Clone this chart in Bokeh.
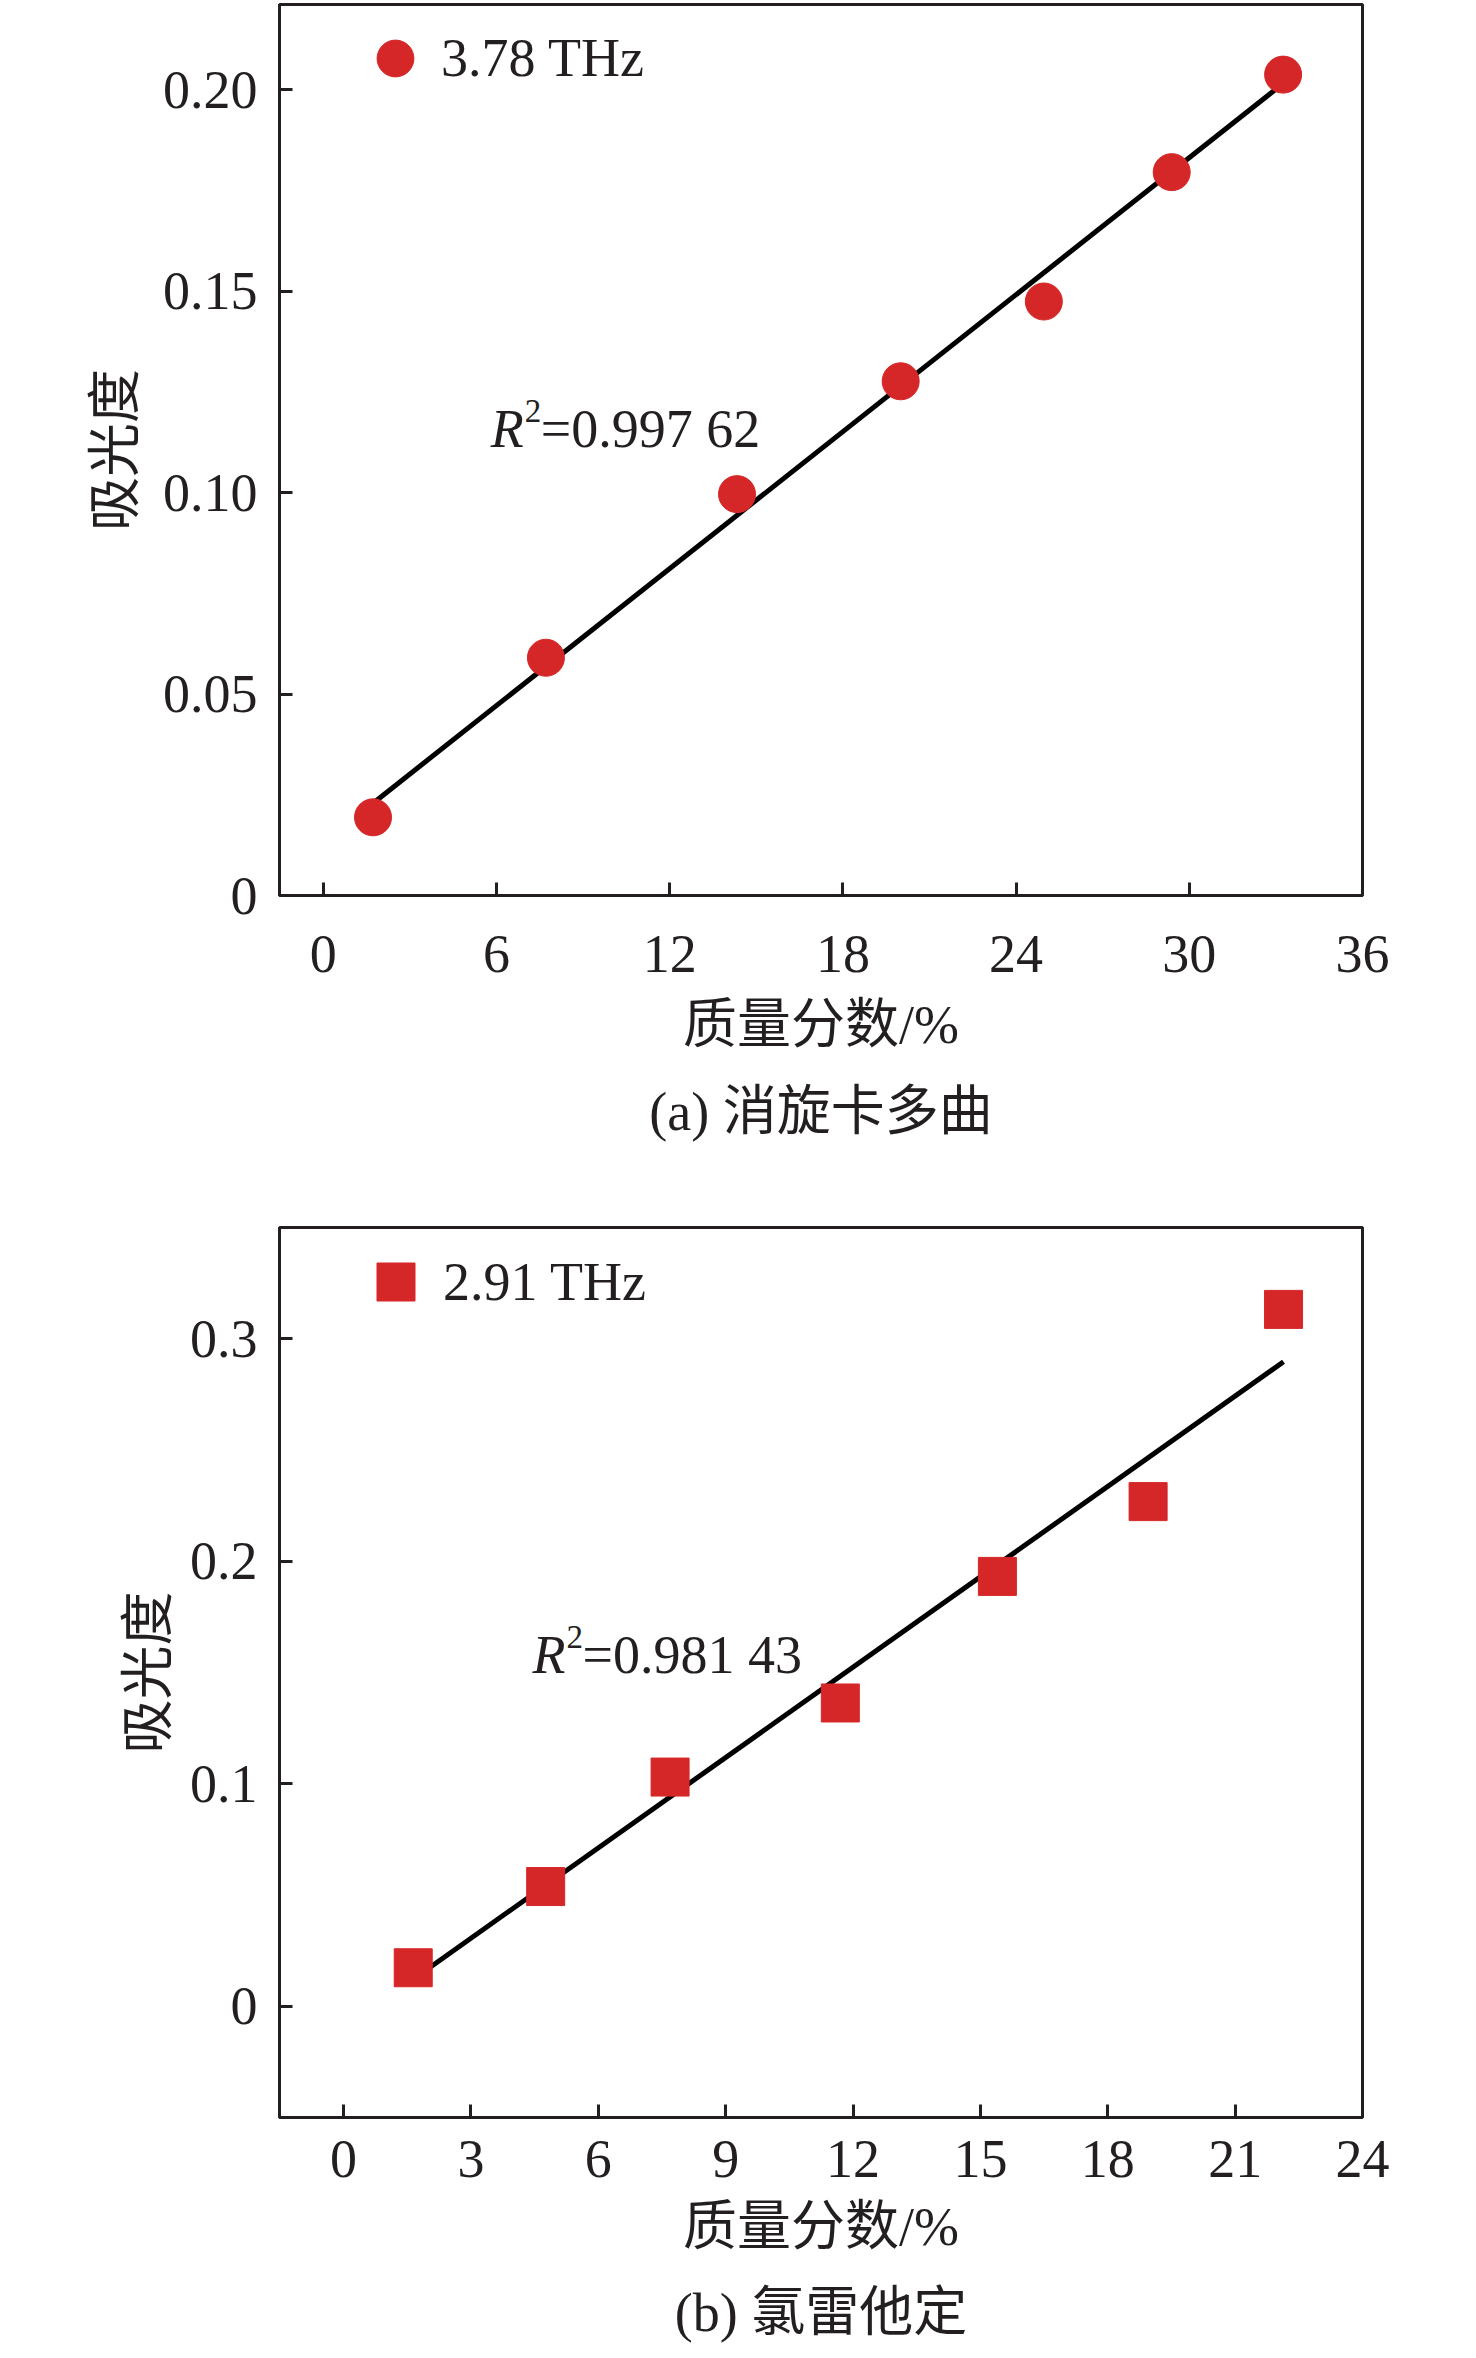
import numpy as np
from bokeh.plotting import figure
from bokeh.models import FixedTicker, Legend, LegendItem, Label, Title, Range1d
from bokeh.layouts import column
from bokeh.embed import file_html
from bokeh.resources import INLINE

# ---------------- data: panel (a) ----------------
a_x = [1.72, 7.71, 14.33, 20.0, 24.96, 29.39, 33.25]
a_y = [0.0194, 0.059, 0.0996, 0.1276, 0.1474, 0.1795, 0.2037]
a_xticks = [0, 6, 12, 18, 24, 30, 36]
a_yticks = [0, 0.05, 0.10, 0.15, 0.20]
a_ylabels = ["0", "0.05", "0.10", "0.15", "0.20"]
a_legend = "3.78 THz"
a_r2 = "=0.997 62"
a_caption = "(a) 消旋卡多曲"

# ---------------- data: panel (b) ----------------
b_x = [1.64, 4.76, 7.69, 11.70, 15.40, 18.95, 22.14]
b_y = [0.0173, 0.0538, 0.103, 0.1363, 0.1932, 0.2268, 0.3132]
b_xticks = [0, 3, 6, 9, 12, 15, 18, 21, 24]
b_yticks = [0, 0.1, 0.2, 0.3]
b_ylabels = ["0", "0.1", "0.2", "0.3"]
b_legend = "2.91 THz"
b_r2 = "=0.981 43"
b_caption = "(b) 氯雷他定"

x_label = "质量分数/%"
y_label = "吸光度"

RED = "#d62728"
INK = "#231f20"
NUM = "Liberation Serif"
CJK = "'Liberation Serif', 'Noto Sans CJK SC'"
FS = "54px"


def panel(xs, ys, xticks, yticks, ylabels, xr, yr, marker, msize, leg_text,
          leg_loc, r2_text, r2_pos, caption, height, border_top, border_bottom,
          xstand, xlab_stand, ylab_stand, cap_stand):
    p = figure(width=1460, height=height, output_backend="svg",
               toolbar_location=None, x_range=Range1d(*xr), y_range=Range1d(*yr),
               min_border_left=279, min_border_right=98,
               min_border_top=border_top, min_border_bottom=border_bottom)
    p.grid.visible = False
    p.outline_line_color = INK
    p.outline_line_width = 3
    p.background_fill_color = "white"
    p.border_fill_color = "white"

    for ax in (p.xaxis[0], p.yaxis[0]):
        ax.axis_line_color = INK
        ax.axis_line_width = 3
        ax.major_tick_line_color = INK
        ax.major_tick_line_width = 3
        ax.major_tick_in = 13
        ax.major_tick_out = 0
        ax.minor_tick_line_color = None
        ax.major_label_text_font = NUM
        ax.major_label_text_font_size = FS
        ax.major_label_text_color = INK
        ax.axis_label_text_font = CJK
        ax.axis_label_text_font_size = FS
        ax.axis_label_text_font_style = "normal"
        ax.axis_label_text_color = INK

    p.xaxis[0].ticker = FixedTicker(ticks=xticks)
    p.xaxis[0].major_label_overrides = {t: str(t) for t in xticks}
    p.xaxis[0].major_label_standoff = xstand
    p.xaxis[0].axis_label = x_label
    p.xaxis[0].axis_label_standoff = xlab_stand

    p.yaxis[0].ticker = FixedTicker(ticks=yticks)
    p.yaxis[0].major_label_overrides = {t: l for t, l in zip(yticks, ylabels)}
    p.yaxis[0].major_label_standoff = 22
    p.yaxis[0].axis_label = y_label
    p.yaxis[0].axis_label_standoff = ylab_stand

    # fitted line
    k, b = np.polyfit(xs, ys, 1)
    lx = np.array([xs[0], xs[-1]])
    p.line(lx, k * lx + b, line_color="black", line_width=5)

    r = p.scatter(xs, ys, marker=marker, size=msize, fill_color=RED,
                  line_color=RED)

    g = msize / 0.4
    leg = Legend(items=[LegendItem(label=leg_text, renderers=[r])],
                 location=leg_loc, glyph_width=int(g), glyph_height=int(g),
                 label_height=int(g), label_standoff=-6, padding=0, margin=0,
                 label_text_font=NUM, label_text_font_size=FS,
                 label_text_color=INK, label_text_baseline="middle",
                 border_line_color=None, background_fill_alpha=0)
    p.add_layout(leg)

    rx, ry = r2_pos
    p.add_layout(Label(x=rx, y=ry, text="R", text_font=NUM, text_font_size=FS,
                       text_font_style="italic", text_color=INK,
                       text_baseline="alphabetic"))
    p.add_layout(Label(x=rx, y=ry, x_offset=34, y_offset=18, text="2",
                       text_font=NUM, text_font_size="33px", text_color=INK,
                       text_baseline="alphabetic"))
    p.add_layout(Label(x=rx, y=ry, x_offset=50, text=r2_text, text_font=NUM,
                       text_font_size=FS, text_color=INK,
                       text_baseline="alphabetic"))

    p.add_layout(Title(text=caption, align="center", text_font=CJK,
                       text_font_size=FS, text_font_style="normal",
                       text_color=INK, standoff=cap_stand), "below")
    return p


pa = panel(a_x, a_y, a_xticks, a_yticks, a_ylabels, (-1.52, 36.0), (0.0, 0.2211),
           "circle", 37, a_legend, (70, 791), a_r2, (5.8, 0.1157), a_caption,
           1167, 4, 272, 40, 20, 14, 45)

pb = panel(b_x, b_y, b_xticks, b_yticks, b_ylabels, (-1.51, 24.0), (-0.05, 0.35),
           "square", 38, b_legend, (69, 788), b_r2, (4.45, 0.158), b_caption,
           1200, 60, 250, 23, 17, 8, 43)

layout = column(pa, pb, spacing=0)
open("out.html", "w").write(file_html(layout, INLINE))
